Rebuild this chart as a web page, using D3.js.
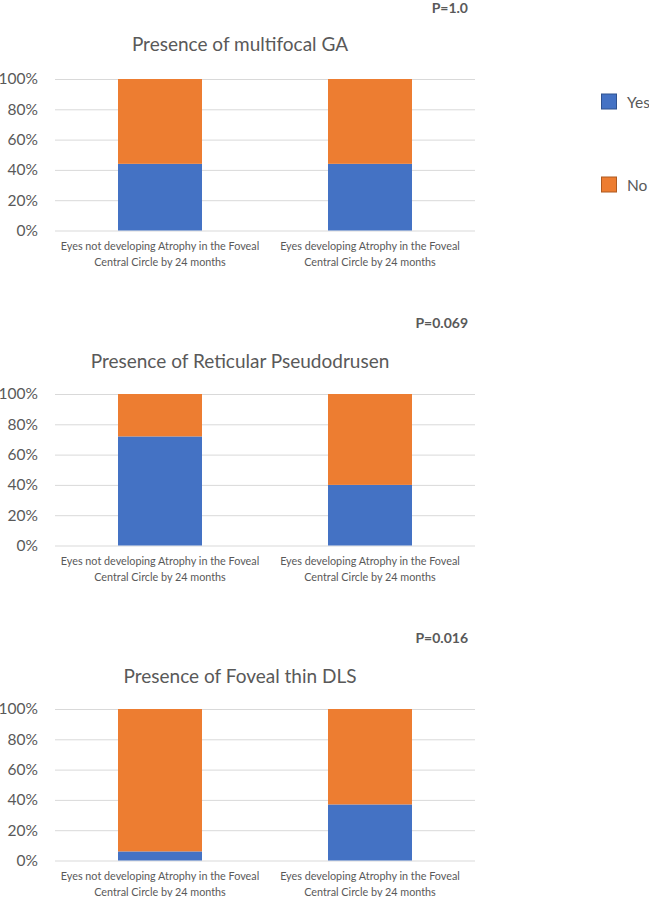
<!DOCTYPE html>
<html>
<head>
<meta charset="utf-8">
<script src="https://cdn.jsdelivr.net/npm/d3@7"></script>
<style>
  html, body { margin: 0; padding: 0; background: #ffffff; }
  svg { display: block; }
  text { font-family: Lato, "Open Sans", sans-serif; }
</style>
</head>
<body>
<svg id="chart" width="649" height="897"></svg>
<script>
// ---- data ----
const categories = [
  ["Eyes not developing Atrophy in the Foveal", "Central Circle by 24 months"],
  ["Eyes developing Atrophy in the Foveal", "Central Circle by 24 months"]
];
const titles = [
  "Presence of multifocal GA",
  "Presence of Reticular Pseudodrusen",
  "Presence of Foveal thin DLS"
];
const pValues = ["P=1.0", "P=0.069", "P=0.016"];
const yesMultifocal = [44, 44];
const noMultifocal = [56, 56];
const yesReticular = [72, 40];
const noReticular = [28, 60];
const yesFovealDLS = [6, 37];
const noFovealDLS = [94, 63];
const yTicks = [0, 20, 40, 60, 80, 100];
const seriesNames = ["Yes", "No"];

const panels = [
  { title: titles[0], p: pValues[0], yes: yesMultifocal, no: noMultifocal },
  { title: titles[1], p: pValues[1], yes: yesReticular, no: noReticular },
  { title: titles[2], p: pValues[2], yes: yesFovealDLS, no: noFovealDLS }
];

// ---- styles ----
const colors = { Yes: "#4472C4", No: "#ED7D31" };
const borders = { Yes: "#2F528F", No: "#AE5A21" };
const textColor = "#595959";
const gridColor = "#D9D9D9";

const svg = d3.select("#chart");
const panelStep = 315;
const plotLeft = 55, plotRight = 475;

const x = d3.scaleBand()
  .domain(categories.map((d, i) => i))
  .range([plotLeft, plotRight])
  .paddingInner(0.6)
  .paddingOuter(0.3);

const stack = d3.stack().keys(seriesNames);

panels.forEach((panel, pi) => {
  const oy = pi * panelStep;
  const g = svg.append("g").attr("transform", `translate(0,${oy})`);

  const y = d3.scaleLinear().domain([0, 100]).range([230.5, 79]);

  // P value
  g.append("text")
    .attr("x", 468).attr("y", 13)
    .attr("text-anchor", "end")
    .attr("font-size", 14)
    .attr("font-weight", "bold")
    .attr("fill", textColor)
    .text(panel.p);

  // title
  g.append("text")
    .attr("x", 240).attr("y", pi === 0 ? 51 : 53)
    .attr("text-anchor", "middle")
    .attr("font-size", 19)
    .attr("fill", textColor)
    .text(panel.title);

  // gridlines
  g.append("g")
    .attr("transform", `translate(${plotLeft},0)`)
    .call(d3.axisLeft(y).tickValues(yTicks).tickSize(-(plotRight - plotLeft)).tickFormat(""))
    .call(a => a.select(".domain").remove())
    .call(a => a.selectAll("line").attr("stroke", gridColor).attr("stroke-width", 1));

  // y tick labels
  g.append("g")
    .attr("transform", `translate(${plotLeft},0)`)
    .call(d3.axisLeft(y).tickValues(yTicks).tickSize(0).tickPadding(17).tickFormat(d => d + "%"))
    .call(a => a.select(".domain").remove())
    .call(a => a.selectAll("text")
      .attr("font-family", "Lato, sans-serif")
      .attr("font-size", 15.5)
      .attr("fill", textColor));

  // bars
  const rows = categories.map((c, i) => ({ idx: i, Yes: panel.yes[i], No: panel.no[i] }));
  const series = stack(rows);
  g.append("g").selectAll("g")
    .data(series)
    .join("g")
    .attr("fill", d => colors[d.key])
    .selectAll("rect")
    .data(d => d)
    .join("rect")
    .attr("x", d => x(d.data.idx))
    .attr("width", x.bandwidth())
    .attr("y", d => y(d[1]))
    .attr("height", d => y(d[0]) - y(d[1]));

  // x labels
  const xl = g.append("g");
  categories.forEach((lines, i) => {
    const t = xl.append("text")
      .attr("text-anchor", "middle")
      .attr("font-size", 10.8)
      .attr("fill", textColor);
    lines.forEach((ln, li) => {
      t.append("tspan")
        .attr("x", x(i) + x.bandwidth() / 2)
        .attr("y", 250 + li * 16)
        .text(ln);
    });
  });
});

// legend
const legend = svg.append("g");
const legendY = [101.5, 184.5];
seriesNames.forEach((name, i) => {
  legend.append("rect")
    .attr("x", 601.5).attr("y", legendY[i] - 7.5)
    .attr("width", 15).attr("height", 15)
    .attr("fill", colors[name])
    .attr("stroke", borders[name])
    .attr("stroke-width", 1);
  legend.append("text")
    .attr("x", 627).attr("y", legendY[i])
    .attr("dominant-baseline", "central")
    .attr("font-size", 15.5)
    .attr("fill", textColor)
    .text(name);
});
</script>
</body>
</html>
